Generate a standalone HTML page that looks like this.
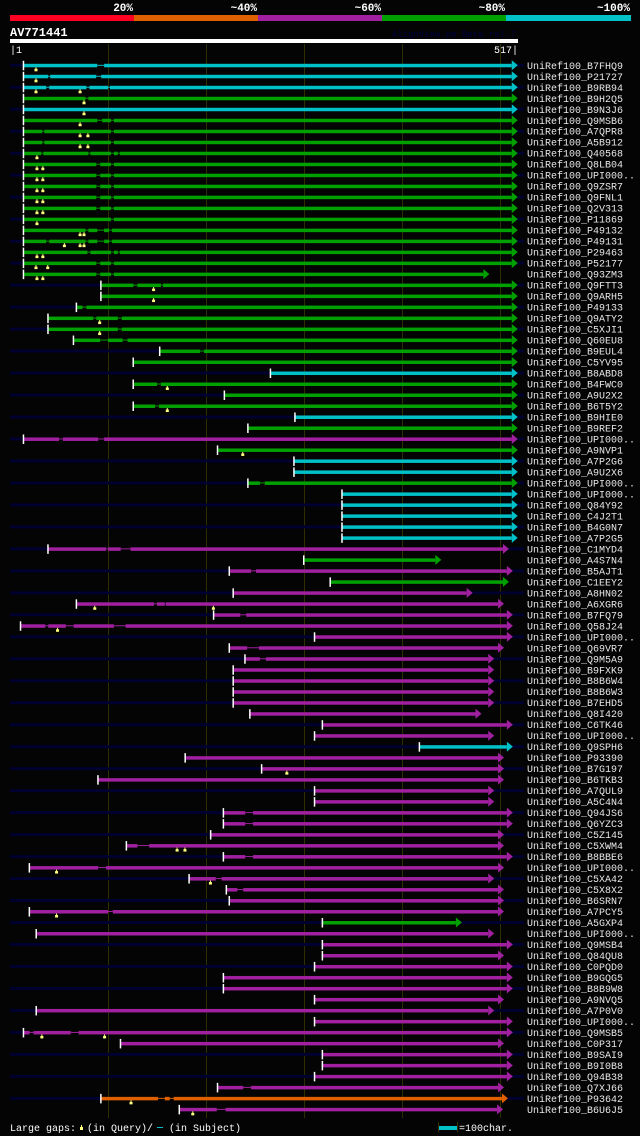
<!DOCTYPE html>
<html><head><meta charset="utf-8">
<style>
html,body{margin:0;padding:0;background:#000;}
svg{display:block;font-family:"Liberation Mono",monospace;}
</style></head>
<body>
<svg id="chart" width="640" height="1136" viewBox="0 0 640 1136" xmlns="http://www.w3.org/2000/svg">
<rect x="0" y="0" width="640" height="1136" fill="#040404"/>
<g>
<rect x="10" y="15" width="124" height="6" fill="#ff0022"/>
<rect x="134" y="15" width="124" height="6" fill="#e06000"/>
<rect x="258" y="15" width="124" height="6" fill="#a020a0"/>
<rect x="382" y="15" width="124" height="6" fill="#00a000"/>
<rect x="506" y="15" width="125" height="6" fill="#00c0c8"/>
<g font-size="11" font-weight="bold" fill="#fff" text-anchor="end">
<text x="133" y="11">20%</text>
<text x="257" y="11">~40%</text>
<text x="381" y="11">~60%</text>
<text x="505" y="11">~80%</text>
<text x="630" y="11">~100%</text>
</g></g>
<text x="10" y="36" font-size="12" font-weight="bold" fill="#fff">AV771441</text>
<text x="516" y="37" font-size="9" fill="#000040" text-anchor="end">AlignView.pm Beta rel.7</text>
<rect x="10" y="39" width="508" height="4" fill="#fff"/>
<text x="10" y="53" font-size="10" fill="#fff">|1</text>
<text x="518" y="53" font-size="10" fill="#fff" text-anchor="end">517|</text>
<g id="grid"></g>
<g id="rows"></g>
<g>
<text x="10" y="1131" font-size="10" fill="#fff">Large gaps:</text>
<rect x="81" y="1125" width="1" height="3" fill="#ffff80"/>
<rect x="80" y="1127" width="3" height="3" fill="#ffff80"/>
<text x="87" y="1131" font-size="10" fill="#fff">(in Query)/</text>
<rect x="157" y="1127" width="6" height="1" fill="#00c0c8"/>
<text x="169" y="1131" font-size="10" fill="#fff">(in Subject)</text>
<rect x="438" y="1122" width="1" height="10" fill="#333300"/>
<rect x="439" y="1126" width="18" height="4" fill="#00c0c8"/>
<rect x="457" y="1122" width="1" height="10" fill="#333300"/>
<text x="459" y="1131" font-size="10" fill="#fff">=100char.</text>
</g>
</svg>
<script>
const names=["B7FHQ9","P21727","B9RB94","B9H2Q5","B9N3J6","Q9MSB6","A7QPR8","A5B912","Q40568","Q8LB04","UPI000..","Q9ZSR7","Q9FNL1","Q2V313","P11869","P49132","P49131","P29463","P52177","Q93ZM3","Q9FTT3","Q9ARH5","P49133","Q9ATY2","C5XJI1","Q60EU8","B9EUL4","C5YV95","B8ABD8","B4FWC0","A9U2X2","B6T5Y2","B9HIE0","B9REF2","UPI000..","A9NVP1","A7P2G6","A9U2X6","UPI000..","UPI000..","Q84Y92","C4J2T1","B4G0N7","A7P2G5","C1MYD4","A4S7N4","B5AJT1","C1EEY2","A8HN02","A6XGR6","B7FQ79","Q58J24","UPI000..","Q69VR7","Q9M5A9","B9FXK9","B8B6W4","B8B6W3","B7EHD5","Q8I420","C6TK46","UPI000..","Q9SPH6","P93390","B7G197","B6TKB3","A7QUL9","A5C4N4","Q94JS6","Q6YZC3","C5Z145","C5XWM4","B8BBE6","UPI000..","C5XA42","C5X8X2","B6SRN7","A7PCY5","A5GXP4","UPI000..","Q9MSB4","Q84QU8","C0PQD0","B9GQG5","B8B9W8","A9NVQ5","A7P0V0","UPI000..","Q9MSB5","C0P317","B9SAI9","B9I0B8","Q94B38","Q7XJ66","P93642","B6U6J5"];
const identity=("cccgc"+"ggggggggggggggggggggggg"+"cgggcgmgccg"+"cccccmgmg"+"mmmmmmmmmmmmmm"+"c"+"mmmmmmmmmmmmmmm"+"g"+"mmmmmmmmmmmmmmm"+"om").split("");
const starts=[14,14,14,14,14,14,14,14,14,14,
14,14,14,14,14,14,14,14,14,14,
93,93,68,39,39,65,153,126,266,126,
219,126,291,243,14,212,290,290,243,339,
339,339,339,339,39,300,224,327,228,68,
208,11,311,224,240,228,228,228,228,245,
319,311,418,179,257,90,311,311,218,218,
205,119,218,20,183,221,224,20,319,27,
319,319,311,218,218,311,27,311,14,113,
319,319,311,212,93,173];
const ends=[512,512,512,512,512,512,512,512,512,512,
512,512,512,512,512,512,512,512,512,483,
512,512,512,512,512,512,512,512,512,512,
512,512,512,512,512,512,512,512,512,512,
512,512,512,512,503,434,507,503,466,498,
507,507,507,498,488,488,488,488,488,475,
507,488,507,498,498,498,488,488,507,507,
498,498,507,498,488,498,498,498,455,488,
507,498,507,507,507,498,488,507,507,498,
507,507,507,498,502,497];
const gaps=["89-96","39-41 88-93","37-40 78-81 100-102","77-80","","89-94 103-106","33-35 103-106","33-35 103-106","32-34 80-82 103-106 110-112","88-92 103-106",
"88-92 103-106","88-92 103-106","88-92 103-106","88-92 103-106","103-106","77-80 89-96 101-104","37-40 77-80 89-96 101-104","79-82 103-106 110-112","88-92 103-106","88-92 103-106",
"126-130 154-156","","74-78","85-88 110-114","110-114","92-100 115-120","194-198","","","150-154",
"","148-152","","","50-54 90-96","","","","255-260","",
"","","","","98-100 113-123","","246-251","","","147-150 158-159",
"235-241","36-39 57-65 106-118","","242-254","255-261","","","","","",
"","","","","","","","","240-248","240-248",
"","130-142","240-248","90-98","210-216","232-238","","100-105","","",
"","","","","","","","","20-24 62-70","",
"","","","238-246","151-158 163-167","211-220"];
const qgaps=["26","26","26 71","75","75","71","71 79","71 79","27","27 33",
"27 33","27 33","27 33","27 33","27","71 75","55 71 75","27 33","26 38","27 33",
"146","146","","91","91","","","","","160",
"","160","","","","237","","","","",
"","","","","","","","","","86 207",
"","48","","","","","","","","",
"","","","","282","","","","","",
"","170 178","","47","204","","","47","","",
"","","","","","","","","32 96","",
"","","","","123","186"];
const colorMap={c:"#00c0c8",g:"#00a000",m:"#a020a0",o:"#e06000"};
const xq=q=>10+q*0.98;
const rowY=i=>65.3+i*10.99;
const NS="http://www.w3.org/2000/svg";
function mk(tag,attrs,parent){const e=document.createElementNS(NS,tag);for(const k in attrs)e.setAttribute(k,attrs[k]);parent.appendChild(e);return e;}
const grid=document.getElementById("grid");
[100,200,300,400,500].forEach(t=>{
 const l=mk("rect",{x:xq(t),y:44,width:1,height:1074,fill:"#2e2e00"},grid);
 
 
});
const rows=document.getElementById("rows");
names.forEach((n,i)=>{
 const y=rowY(i);
 const g=mk("g",{},rows);
 
 
 const s=xq(starts[i]),e=xq(ends[i]);
 const col=colorMap[identity[i]]||"#a020a0";
 if(i%2===0){
  const nv=mk("rect",{x:10,y:y-1.5,width:Math.max(0,s-10),height:3,fill:"#000030"},g);
  
  
  const nr=mk("rect",{x:e+5,y:y-1.5,width:Math.max(0,524-e-5),height:3,fill:"#000030"},g);
  
  
 }
 const gs=(gaps[i]||"").trim();
 const gl=gs?gs.split(/\s+/).map(p=>p.split("-").map(Number)):[];
 let cur=starts[i];
 const pieces=[];
 gl.forEach(([a,b])=>{pieces.push([cur,a]);cur=b;});
 pieces.push([cur,ends[i]]);
 pieces.forEach(([a,b])=>{
  const r=mk("rect",{x:xq(a),y:y-1.5,width:Math.max(0,xq(b)-xq(a)),height:3.5,fill:col},g);
  
  
 });
 gl.forEach(([a,b])=>{
  const r=mk("rect",{x:xq(a),y:y-0.5,width:Math.max(0,xq(b)-xq(a)),height:1,fill:col},g);
  
  
 });
 const tri=mk("polygon",{points:`${e},${y-5} ${e+6},${y} ${e},${y+5}`,fill:col},g);
 
 
 const tk=mk("rect",{x:s-1,y:y-4.5,width:1.5,height:9.5,fill:"#fff"},g);
 
 
 const qs=(qgaps[i]||"").trim();
 const ql=qs?qs.split(/\s+/).map(Number):[];
 ql.forEach(q=>{
  const m=mk("rect",{x:xq(q),y:y+2,width:1,height:2,fill:"#ffff80"},g);
  
  
  const m2=mk("rect",{x:xq(q)-1,y:y+3.5,width:3,height:2.5,fill:"#ffff80"},g);
  
  
 });
 const t=mk("text",{x:527,y:y+3.5,"font-size":10,fill:"#e8e8e8"},g);
 t.textContent="UniRef100_"+n;
 
 
});
</script>
</body></html>
